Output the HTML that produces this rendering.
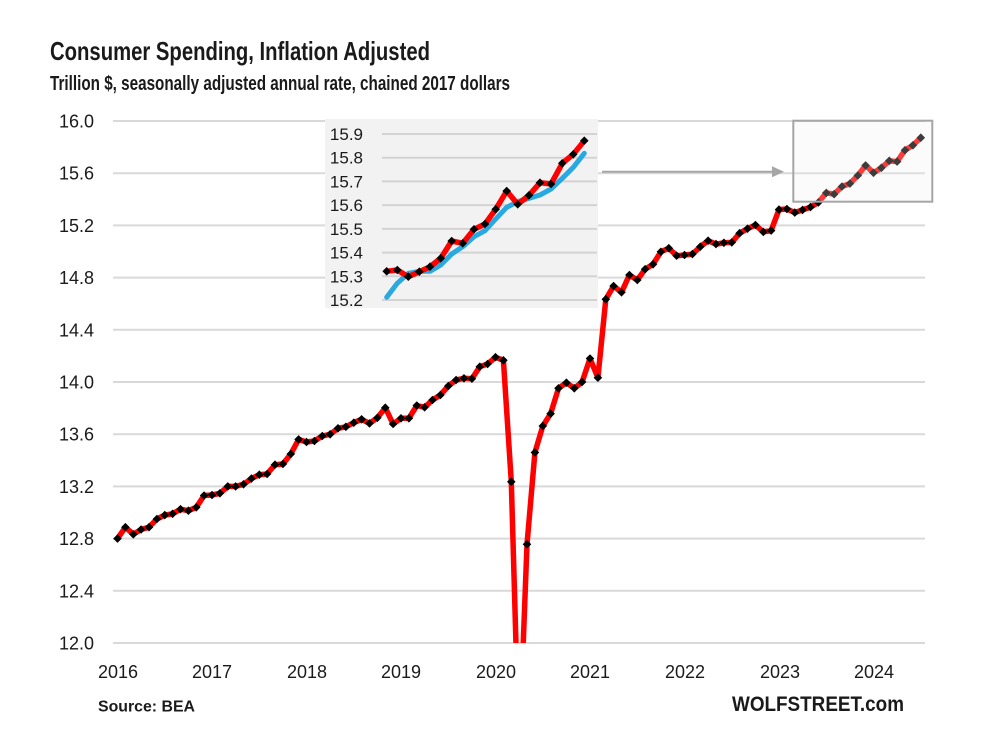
<!DOCTYPE html>
<html><head><meta charset="utf-8"><style>
html,body{margin:0;padding:0;background:#fff;}
svg{display:block;}
text{font-family:"Liberation Sans",Arial,sans-serif;fill:#1a1a1a;}
</style></head><body>
<svg width="995" height="746" viewBox="0 0 995 746" xmlns="http://www.w3.org/2000/svg">
<defs>
<marker id="dm" markerWidth="10" markerHeight="10" refX="5" refY="5" markerUnits="userSpaceOnUse" orient="0"><path d="M5,0.7 L9.3,5 L5,9.3 L0.7,5Z" fill="#000"/></marker>
<clipPath id="pc"><rect x="100" y="100" width="840" height="543"/></clipPath>
</defs>
<rect width="995" height="746" fill="#fff"/>
<text x="50" y="60" font-size="26" font-weight="bold" textLength="380" lengthAdjust="spacingAndGlyphs">Consumer Spending, Inflation Adjusted</text>
<text x="50" y="90" font-size="20" font-weight="bold" textLength="460" lengthAdjust="spacingAndGlyphs">Trillion $, seasonally adjusted annual rate, chained  2017 dollars</text>
<g stroke="#d9d9d9" stroke-width="2">
<line x1="113" y1="121" x2="925" y2="121"/>
<line x1="113" y1="173.2" x2="925" y2="173.2"/>
<line x1="113" y1="225.4" x2="925" y2="225.4"/>
<line x1="113" y1="277.6" x2="925" y2="277.6"/>
<line x1="113" y1="329.8" x2="925" y2="329.8"/>
<line x1="113" y1="382" x2="925" y2="382"/>
<line x1="113" y1="434.2" x2="925" y2="434.2"/>
<line x1="113" y1="486.4" x2="925" y2="486.4"/>
<line x1="113" y1="538.6" x2="925" y2="538.6"/>
<line x1="113" y1="590.8" x2="925" y2="590.8"/>
<line x1="113" y1="643" x2="925" y2="643"/>
</g>
<g font-size="18" text-anchor="end">
<text x="94" y="127.5">16.0</text>
<text x="94" y="179.7">15.6</text>
<text x="94" y="231.9">15.2</text>
<text x="94" y="284.1">14.8</text>
<text x="94" y="336.3">14.4</text>
<text x="94" y="388.5">14.0</text>
<text x="94" y="440.7">13.6</text>
<text x="94" y="492.9">13.2</text>
<text x="94" y="545.1">12.8</text>
<text x="94" y="597.3">12.4</text>
<text x="94" y="649.5">12.0</text>
</g>
<g font-size="18" text-anchor="middle">
<text x="118" y="678">2016</text>
<text x="212" y="678">2017</text>
<text x="307" y="678">2018</text>
<text x="401" y="678">2019</text>
<text x="496" y="678">2020</text>
<text x="590" y="678">2021</text>
<text x="685" y="678">2022</text>
<text x="780" y="678">2023</text>
<text x="874" y="678">2024</text>
</g>
<text x="98" y="711.5" font-size="16" font-weight="bold" textLength="97" lengthAdjust="spacingAndGlyphs">Source: BEA</text>
<text x="732" y="711" font-size="21" font-weight="bold" textLength="172" lengthAdjust="spacingAndGlyphs">WOLFSTREET.com</text>

<g clip-path="url(#pc)">
<polyline fill="none" stroke="#ff0000" stroke-width="5.5" stroke-linejoin="round" marker-start="url(#dm)" marker-mid="url(#dm)" marker-end="url(#dm)" points="117.5,538.6 125.4,527.2 133.3,534.3 141.1,529.5 149.0,527.2 156.9,519.0 164.8,515.1 172.6,513.8 180.5,509.2 188.4,510.7 196.3,507.3 204.1,495.5 212.0,495.0 219.9,493.3 227.8,486.4 235.6,486.4 243.5,484.3 251.4,478.6 259.3,474.7 267.1,474.0 275.0,464.7 282.9,464.0 290.8,454.0 298.6,439.4 306.5,442.0 314.4,441.0 322.3,436.0 330.1,434.3 338.0,428.3 345.9,426.8 353.8,422.7 361.6,419.3 369.5,423.4 377.4,417.8 385.3,407.7 393.1,424.0 401.0,418.3 408.9,418.3 416.8,405.5 424.6,407.3 432.5,400.0 440.4,395.0 448.3,386.0 456.1,380.0 464.0,378.3 471.9,378.7 479.8,366.7 487.6,364.0 495.5,357.2 503.4,360.3 511.3,481.7 519.1,752 527.0,544.3 534.9,452.5 542.8,426.0 550.6,413.7 558.5,388.3 566.4,382.7 574.3,388.3 582.1,382.0 590.0,358.5 597.9,377.7 605.8,299.3 613.6,286.0 621.5,292.3 629.4,275.0 637.3,280.0 645.1,269.2 653.0,264.3 660.9,251.8 668.8,248.2 676.6,255.7 684.5,255.0 692.4,254.1 700.3,246.7 708.1,240.7 716.0,244.1 723.9,242.8 731.8,242.4 739.6,233.2 747.5,228.7 755.4,225.0 763.3,231.9 771.1,230.6 779.0,209.6 786.9,209.0 794.8,212.6 802.6,209.9 810.5,207.1 818.4,202.4 826.3,192.9 834.1,194.2 842.0,186.5 849.9,183.6 857.8,175.5 865.6,165.4 873.5,172.8 881.4,167.8 889.3,160.8 897.1,161.6 905.0,150.2 912.9,145.3 920.8,137.7"/>
</g>

<rect x="793.3" y="120.7" width="139" height="81" fill="#eeeeee" fill-opacity="0.25" stroke="#a6a6a6" stroke-width="2"/>

<line x1="602" y1="171.7" x2="774" y2="171.7" stroke="#a6a6a6" stroke-width="2"/>
<path d="M772,166.2 L784,171.7 L772,177.2Z" fill="#a6a6a6"/>

<rect x="325" y="119" width="273" height="189" fill="#f2f2f2"/>
<g stroke="#d3d3d3" stroke-width="2">
<line x1="382" y1="134" x2="597" y2="134"/>
<line x1="382" y1="157.7" x2="597" y2="157.7"/>
<line x1="382" y1="181.4" x2="597" y2="181.4"/>
<line x1="382" y1="205.1" x2="597" y2="205.1"/>
<line x1="382" y1="228.9" x2="597" y2="228.9"/>
<line x1="382" y1="252.6" x2="597" y2="252.6"/>
<line x1="382" y1="276.3" x2="597" y2="276.3"/>
<line x1="382" y1="300" x2="597" y2="300"/>
</g>
<g font-size="17" text-anchor="end">
<text x="363" y="140">15.9</text>
<text x="363" y="163.7">15.8</text>
<text x="363" y="187.4">15.7</text>
<text x="363" y="211.1">15.6</text>
<text x="363" y="234.9">15.5</text>
<text x="363" y="258.6">15.4</text>
<text x="363" y="282.3">15.3</text>
<text x="363" y="306">15.2</text>
</g>
<polyline fill="none" stroke="#29a9e1" stroke-width="5" stroke-linejoin="round" stroke-linecap="round" points="386.7,297.3 397.3,283.3 408.3,273.3 419.3,271.3 430,271.3 440.7,265 451.7,254 462.7,246.7 474,236.7 485,230.7 495.7,219 506.7,207.3 517.7,201.7 529,198.3 540,195 551,189 562.3,178.3 573.3,167.3 584.3,153.3"/>
<polyline fill="none" stroke="#ff0000" stroke-width="5.5" stroke-linejoin="round" marker-start="url(#dm)" marker-mid="url(#dm)" marker-end="url(#dm)" points="386.7,271.3 397.3,270 408.3,276.7 419.3,271.7 430,266.7 440.7,258.3 451.7,241 462.7,243.3 474,229.3 485,224 495.7,209.3 506.7,191 517.7,204.3 529,195.3 540,182.7 551,184 562.3,163.3 573.3,154.3 584.3,140.7"/>
</svg>
</body></html>
